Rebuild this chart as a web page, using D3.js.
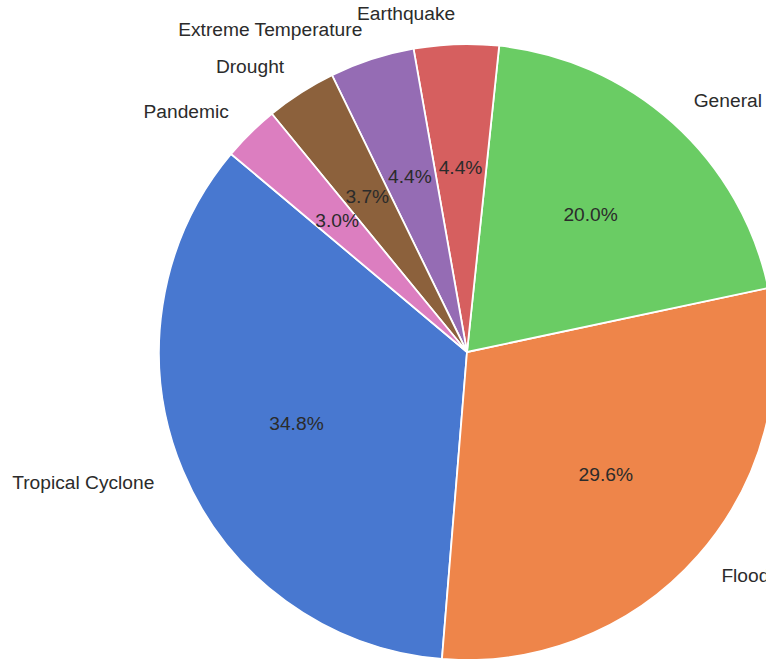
<!DOCTYPE html>
<html>
<head>
<meta charset="utf-8">
<script src="https://cdn.jsdelivr.net/npm/d3@7"></script>
<style>
  html, body { margin: 0; padding: 0; background: #ffffff; }
  svg { display: block; }
  text { font-family: "Liberation Sans", Arial, "DejaVu Sans", sans-serif; }
</style>
</head>
<body>
<svg id="chart" width="766" height="659"></svg>
<script>
// Data (counts; percentages derived as in the reference)
const categories = ["Tropical Cyclone", "Flood", "General", "Earthquake", "Extreme Temperature", "Drought", "Pandemic"];
const counts = [47, 40, 27, 6, 6, 5, 4];
const colors = ["#4878d0", "#ee854a", "#6acc64", "#d65f5f", "#956cb4", "#8c613c", "#dc7ec0"];

const width = 766, height = 659;
const cx = 467, cy = 352, r = 308;
const startDeg = 140; // matplotlib-style start angle, counter-clockwise

const svg = d3.select("#chart");
const g = svg.append("g").attr("transform", `translate(${cx},${cy})`);

const data = categories.map((c, i) => ({ name: c, value: counts[i], color: colors[i] }));
const total = d3.sum(counts);

const a0 = (90 - startDeg) * Math.PI / 180;
const pie = d3.pie().value(d => d.value).sort(null)
  .startAngle(a0).endAngle(a0 - 2 * Math.PI);
const arcs = pie(data);

const arc = d3.arc().innerRadius(0).outerRadius(r);

g.selectAll("path.slice")
  .data(arcs)
  .join("path")
  .attr("class", "slice")
  .attr("d", arc)
  .attr("fill", d => d.data.color)
  .attr("stroke", "#ffffff")
  .attr("stroke-width", 1.8)
  .attr("stroke-linejoin", "round");

const fontSize = 19.2;
const textColor = "#2b2b2b";

function pos(d, k) {
  const a = (d.startAngle + d.endAngle) / 2;
  return [Math.sin(a) * r * k, -Math.cos(a) * r * k];
}

g.selectAll("text.label")
  .data(arcs)
  .join("text")
  .attr("class", "label")
  .attr("x", d => pos(d, 1.1)[0])
  .attr("y", d => pos(d, 1.1)[1])
  .attr("text-anchor", d => pos(d, 1.1)[0] > 0 ? "start" : "end")
  .attr("dominant-baseline", "central")
  .attr("font-size", fontSize)
  .attr("fill", textColor)
  .text(d => d.data.name);

g.selectAll("text.pct")
  .data(arcs)
  .join("text")
  .attr("class", "pct")
  .attr("x", d => pos(d, 0.6)[0])
  .attr("y", d => pos(d, 0.6)[1])
  .attr("text-anchor", "middle")
  .attr("dominant-baseline", "central")
  .attr("font-size", fontSize)
  .attr("fill", textColor)
  .text(d => (d.data.value / total * 100).toFixed(1) + "%");
</script>
</body>
</html>
